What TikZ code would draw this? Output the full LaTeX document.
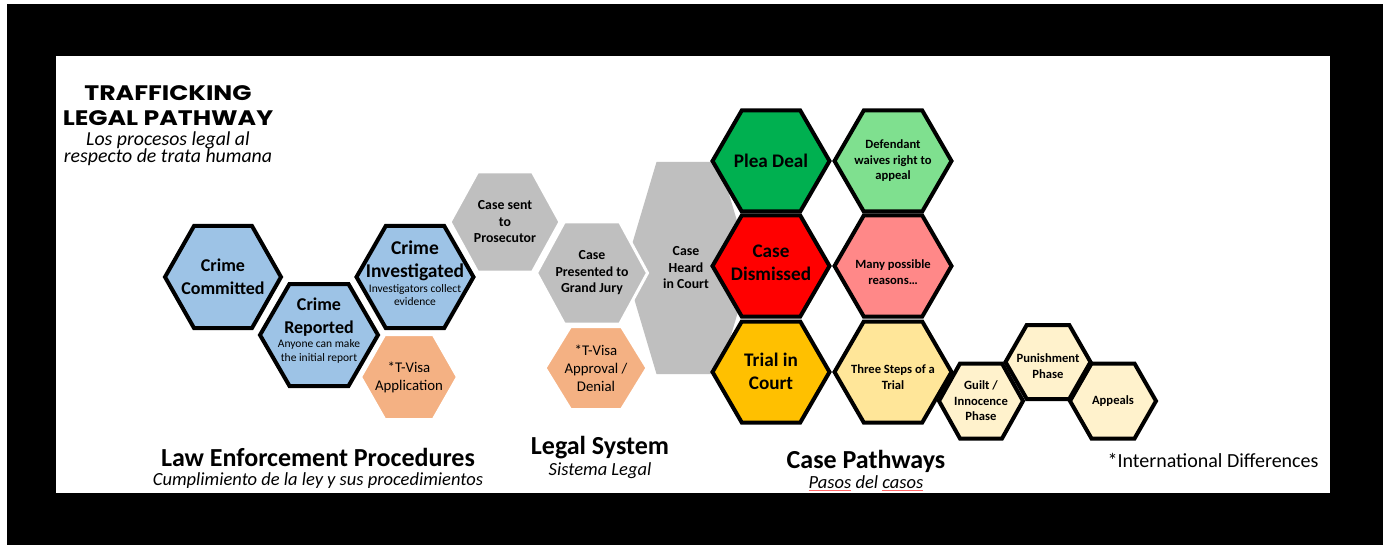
\documentclass[tikz,border=0pt]{standalone}
\usepackage{fontspec}
\setmainfont{Carlito}
\newfontfamily\titlefont{Poppins}[FakeStretch=1.2]
\usepackage{tikz}
\usetikzlibrary{calc}
\usetikzlibrary{positioning}

\definecolor{hexblue}{RGB}{157,195,230}
\definecolor{hexorange}{RGB}{244,177,131}
\definecolor{hexgray}{RGB}{191,191,191}
\definecolor{pleagreen}{RGB}{0,176,80}
\definecolor{dismissred}{RGB}{255,0,0}
\definecolor{trialgold}{RGB}{255,192,0}
\definecolor{waivegreen}{RGB}{127,224,143}
\definecolor{reasonred}{RGB}{255,136,136}
\definecolor{stepgold}{RGB}{255,230,153}
\definecolor{phasegold}{RGB}{255,242,204}

\lineskiplimit=-20pt

% hexagon with flat top: style, name, x, y, half width, half height
\newcommand{\hexcell}[6][]{%
  \path[#1] (#3-#5,#4) -- (#3-#5/2,#4-#6) -- (#3+#5/2,#4-#6) -- (#3+#5,#4)
    -- (#3+#5/2,#4+#6) -- (#3-#5/2,#4+#6) -- cycle;
  \coordinate (#2) at (#3,#4);}
\newcommand{\spellmark}[1]{\textcolor{red!60}{\underline{\textcolor{black}{#1}}}}

\begin{document}
\begin{tikzpicture}[x=1pt, y=-1pt,
    hexline/.style={draw=black, line width=4pt},
    hexsoft/.style={draw=white, line width=3pt},
    bigtxt/.style={font=\fontsize{18}{23}\selectfont\bfseries, align=center, inner sep=0pt},
    pathtxt/.style={font=\fontsize{19.2}{23}\selectfont\bfseries, align=center, inner sep=0pt},
    midtxt/.style={font=\fontsize{13.8}{16.5}\selectfont\bfseries, align=center, inner sep=0pt},
    smalltxt/.style={font=\fontsize{12.6}{15.5}\selectfont\bfseries, align=center, inner sep=0pt},
    notetxt/.style={font=\fontsize{11.5}{13.5}\selectfont, align=center, inner sep=0pt},
    visatxt/.style={font=\fontsize{14.8}{18}\selectfont, align=center, inner sep=0pt},
    headtxt/.style={font=\fontsize{26}{28}\selectfont\bfseries, inner sep=0pt},
    subtxt/.style={font=\fontsize{18.5}{16}\selectfont\itshape, align=center, inner sep=0pt},
    titletxt/.style={font=\fontsize{21}{25}\selectfont\titlefont\bfseries, align=center, inner sep=0pt}]
    \useasboundingbox (0,0) rectangle (1383,545);
    \fill[white] (0,0) rectangle (1383,545);
    \fill[black] (7,4) rectangle (1383,545);
    \fill[white] (56,56) rectangle (1330,493);

    % legal system
    \hexcell[fill=hexgray]{heard}{688}{268}{63}{106}
    \hexcell[hexsoft, fill=hexgray]{prosecutor}{505}{222}{55}{50}
    \hexcell[hexsoft, fill=hexgray]{grandjury}{592}{273}{55.5}{51}
    \hexcell[hexsoft, fill=hexorange]{approval}{596}{368}{51}{41.5}

    % law enforcement
    \hexcell[hexline, fill=hexblue]{committed}{223}{277}{58}{51}
    \hexcell[hexline, fill=hexblue]{investigated}{415}{277}{58.5}{51}
    \hexcell[hexline, fill=hexblue]{reported}{319}{335}{59}{51}
    \hexcell[hexsoft, fill=hexorange]{application}{409}{377}{48.5}{42.5}

    % case pathways
    \hexcell[hexline, fill=pleagreen]{plea}{771}{161}{58.5}{50.5}
    \hexcell[hexline, fill=dismissred]{dismissed}{771}{266}{58.5}{50.5}
    \hexcell[hexline, fill=trialgold]{trial}{771}{372}{58.5}{50.5}
    \hexcell[hexline, fill=waivegreen]{waives}{893}{161}{58.5}{50.5}
    \hexcell[hexline, fill=reasonred]{reasons}{893}{266}{58.5}{50.5}
    \hexcell[hexline, fill=stepgold]{steps}{893}{372}{58.5}{50.5}
    \hexcell[hexline, fill=phasegold]{guilt}{981}{401}{42}{37.5}
    \hexcell[hexline, fill=phasegold]{punishment}{1048}{362}{42.5}{37}
    \hexcell[hexline, fill=phasegold]{appeals}{1113}{401}{43}{37.5}

    % texts in the cells
    \node[bigtxt] (committed-t) at (committed) {Crime\\Committed};
    \node[bigtxt] (reported-t) at ($(reported)+(0,-18)$) {Crime\\Reported};
    \node[notetxt, below=3pt of reported-t] (reported-n) {Anyone can make\\the initial report};
    \node[bigtxt, font=\fontsize{19.5}{23}\selectfont\bfseries] (investigated-t) at ($(investigated)+(0,-16)$) {Crime\\Investigated};
    \node[notetxt, below=3pt of investigated-t] (investigated-n) {Investigators collect\\evidence};
    \node[visatxt] (application-t) at (application) {*T-Visa\\Application};
    \node[midtxt] (prosecutor-t) at (prosecutor) {Case sent\\to\\Prosecutor};
    \node[midtxt] (grandjury-t) at (grandjury) {Case\\Presented to\\Grand Jury};
    \node[visatxt] (approval-t) at (approval) {*T-Visa\\Approval /\\Denial};
    \node[midtxt] (heard-t) at ($(heard)+(-2,0)$) {Case\\Heard\\in Court};
    \node[pathtxt] (plea-t) at (plea) {Plea Deal};
    \node[pathtxt] (dismissed-t) at ($(dismissed)+(0,-3)$) {Case\\Dismissed};
    \node[pathtxt] (trial-t) at ($(trial)+(0,-1)$) {Trial in\\Court};
    \node[smalltxt] (waives-t) at (waives) {Defendant\\waives right to\\appeal};
    \node[smalltxt] (reasons-t) at ($(reasons)+(0,6)$) {Many possible\\reasons\ldots};
    \node[smalltxt] (steps-t) at ($(steps)+(0,5)$) {Three Steps of a\\Trial};
    \node[smalltxt] (guilt-t) at (guilt) {Guilt /\\Innocence\\Phase};
    \node[smalltxt] (punishment-t) at ($(punishment)+(0,4)$) {Punishment\\Phase};
    \node[smalltxt] (appeals-t) at (appeals) {Appeals};

    % headings
    \node[titletxt] (title) at (168,105.5) {TRAFFICKING\\LEGAL PATHWAY};
    \node[subtxt, font=\fontsize{19.8}{17}\selectfont\itshape, below=6pt of title] (title-sub) {Los procesos legal al\\respecto de trata humana};
    \node[headtxt] (law) at (318,457) {Law Enforcement Procedures};
    \node[subtxt, below=6pt of law] (law-sub) {Cumplimiento de la ley y sus procedimientos};
    \node[headtxt] (legal) at (600,448) {Legal System};
    \node[subtxt, below=3pt of legal] (legal-sub) {Sistema Legal};
    \node[headtxt] (pathways) at (866,461) {Case Pathways};
    \node[subtxt, below=3pt of pathways] (pathways-sub) {\spellmark{Pasos} del \spellmark{casos}};
    \node[font=\fontsize{20}{22}\selectfont, inner sep=0pt] (intl) at (1213,460) {*International Differences};
\end{tikzpicture}
\end{document}
